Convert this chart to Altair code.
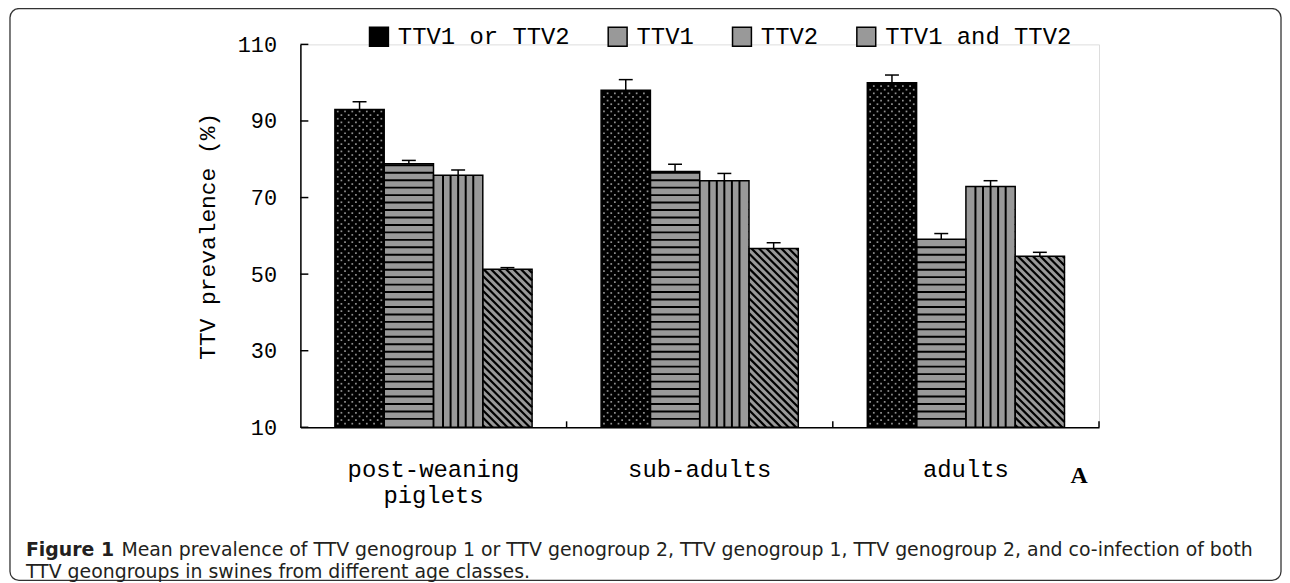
import altair as alt
import pandas as pd

# ---------------- data ----------------
categories = ["post-weaning piglets", "sub-adults", "adults"]
series = ["TTV1 or TTV2", "TTV1", "TTV2", "TTV1 and TTV2"]
val_any = [93.0, 98.0, 100.0]
err_any = [2.0, 2.8, 2.0]
val_t1 = [78.8, 76.8, 59.1]
err_t1 = [0.9, 1.9, 1.5]
val_t2 = [75.8, 74.4, 72.9]
err_t2 = [1.4, 1.9, 1.5]
val_both = [51.3, 56.7, 54.7]
err_both = [0.4, 1.5, 1.0]
y_ticks = [10, 30, 50, 70, 90, 110]

rows = []
for s, vals, errs in zip(series, [val_any, val_t1, val_t2, val_both],
                         [err_any, err_t1, err_t2, err_both]):
    for c, v, e in zip(categories, vals, errs):
        rows.append({"category": c, "series": s, "value": v, "upper": v + e, "base": 10})
df = pd.DataFrame(rows)

# ---------------- layout ----------------
W, H = 803, 385
PAD_O = 0.7
band = W / 3
sub = band / (4 + 2 * PAD_O)
ppu = H / 100.0  # pixels per y unit

def bp(series_idx, px=0.0):
    return ((PAD_O + series_idx + 0.5) * sub + px) / band

MONO = "Liberation Mono"
fills = ["#000000", "#999999", "#999999", "#999999"]

X = lambda **kw: alt.X("category:N", sort=categories,
                       scale=alt.Scale(domain=categories, paddingInner=0, paddingOuter=0), **kw)
XO = lambda: alt.XOffset("series:N", sort=series,
                         scale=alt.Scale(domain=series, paddingInner=0, paddingOuter=PAD_O))
Ysc = alt.Scale(domain=[10, 110], nice=False, zero=False)

base = alt.Chart(df)

bars = base.mark_bar(strokeWidth=0).encode(
    x=X(title=None, axis=alt.Axis(
        labelExpr="datum.label == 'post-weaning piglets' ? ['post-weaning', 'piglets'] : datum.label",
        labelFont=MONO, labelFontSize=24, labelColor="black", labelPadding=30,
        labelLineHeight=27, ticks=False, domainColor="black", domainWidth=1.5, labelAngle=0)),
    xOffset=XO(),
    y=alt.Y("value:Q", scale=Ysc, axis=alt.Axis(
        values=y_ticks, title="TTV prevalence (%)", titleFont=MONO, titleFontSize=23,
        titleFontWeight="normal", titleColor="black", titleX=-93, titleY=H / 2,
        titleAlign="center", titleBaseline="middle", titleAngle=270,
        labelFont=MONO, labelFontSize=22, labelColor="black", labelPadding=24,
        ticks=False, grid=False, domainColor="black", domainWidth=1.5)),
    y2="base:Q",
    color=alt.Color("series:N", sort=series,
                    scale=alt.Scale(domain=series, range=fills),
                    legend=alt.Legend(title=None, orient="none", legendX=67, legendY=-20,
                                      direction="horizontal", columns=4, padding=0,
                                      symbolType="square", symbolSize=361,
                                      symbolStrokeColor="black", symbolStrokeWidth=1.5,
                                      symbolOpacity=1,
                                      labelFont=MONO, labelFontSize=24, labelColor="black",
                                      labelOffset=7, columnPadding=35, labelLimit=400)),
)

# dots on the black bars (staggered grid)
dot_layers = []
rowstep = 7.3 / ppu
for start, offs in [(10 + rowstep / 2, [k * 7.3 for k in range(-3, 4)]),
                    (10 + rowstep, [(k + 0.5) * 7.3 for k in range(-3, 3)])]:
    for o in offs:
        dot_layers.append(
            base.transform_filter(alt.datum.series == series[0])
            .transform_calculate(r=f"sequence({start}, datum.value - 0.4, {rowstep})")
            .transform_flatten(["r"])
            .mark_square(size=3, color="#8f8f8f", opacity=1)
            .encode(x=X(bandPosition=bp(0, o)), y=alt.Y("r:Q", scale=Ysc))
        )

# horizontal stripes (TTV1)
hstep = 7.5 / ppu
hstripes = (base.transform_filter(alt.datum.series == series[1])
            .transform_calculate(s=f"sequence(10 + {hstep}, datum.value - 0.4, {hstep})")
            .transform_flatten(["s"])
            .transform_calculate(s2="datum.s + 0.5")
            .mark_bar(color="black", strokeWidth=0)
            .encode(x=X(), xOffset=XO(), y=alt.Y("s:Q", scale=Ysc), y2="s2:Q"))

# vertical stripes (TTV2)
vlayers = []
for k in range(-2, 3):
    vlayers.append(
        base.transform_filter(alt.datum.series == series[2])
        .mark_rule(color="black", strokeWidth=2)
        .encode(x=X(bandPosition=bp(2, k * 7.6)), y=alt.Y("value:Q", scale=Ysc), y2="base:Q")
    )

# diagonal stripes (TTV1 and TTV2)
dhalf = sub / 2 / ppu
dstep = 7.5 / ppu
diag = (base.transform_filter(alt.datum.series == series[3])
        .transform_calculate(d=f"sequence(10 - {dhalf} + 0.6, datum.value + {dhalf}, {dstep})")
        .transform_flatten(["d"])
        .mark_point(shape="M-1,-1L1,1", size=sub * sub, filled=False, color="black",
                    strokeWidth=2.2, opacity=1, clip=True)
        .encode(x=X(bandPosition=bp(3)), y=alt.Y("d:Q", scale=Ysc)))

cover = (base.transform_filter(alt.datum.series == series[3])
         .transform_calculate(c2=f"datum.value + {2 * dhalf + 1}")
         .mark_bar(color="white", strokeWidth=0)
         .encode(x=X(), xOffset=XO(), y=alt.Y("value:Q", scale=Ysc), y2="c2:Q"))

outline = base.mark_bar(fillOpacity=0, stroke="black", strokeWidth=1.5).encode(
    x=X(), xOffset=XO(), y=alt.Y("value:Q", scale=Ysc), y2="base:Q")

err_rule = base.mark_rule(color="black", strokeWidth=1.5).encode(
    x=X(), xOffset=XO(), y=alt.Y("value:Q", scale=Ysc), y2="upper:Q")
err_cap = base.mark_tick(color="black", size=14, thickness=1.5, opacity=1).encode(
    x=X(), xOffset=XO(), y=alt.Y("upper:Q", scale=Ysc))

# inward ticks
ytick_rules = alt.Chart(pd.DataFrame({"t": y_ticks})).mark_rule(color="black", strokeWidth=1.5).encode(
    y=alt.Y("t:Q", scale=Ysc), x=alt.value(0), x2=alt.value(8))
xtick_rules = alt.Chart(pd.DataFrame({"category": categories})).mark_rule(
    color="black", strokeWidth=1.5).encode(
    x=X(bandPosition=1), y=alt.value(H), y2=alt.value(H - 6))

one = pd.DataFrame({"a": [0]})
border = alt.Chart(one).mark_rect(fillOpacity=0, stroke="#333333", strokeWidth=1.3,
                                  cornerRadius=9).encode(
    x=alt.value(-292), x2=alt.value(986), y=alt.value(-36), y2=alt.value(539))

CAP = 19
CAPFONT = "DejaVu Sans"
cap_bold = alt.Chart(one).mark_text(text="Figure 1", font=CAPFONT, fontSize=CAP,
                                    fontWeight="bold", align="left", color="#231f20").encode(
    x=alt.value(-276), y=alt.value(508))
cap1 = alt.Chart(one).mark_text(
    text="Mean prevalence of TTV genogroup 1 or TTV genogroup 2, TTV genogroup 1, TTV genogroup 2, and co-infection of both",
    font=CAPFONT, fontSize=CAP, align="left", color="#231f20").encode(
    x=alt.value(-180), y=alt.value(508))
cap2 = alt.Chart(one).mark_text(
    text="TTV geongroups in swines from different age classes.",
    font=CAPFONT, fontSize=CAP, align="left", color="#231f20").encode(
    x=alt.value(-276), y=alt.value(531))
letter_a = alt.Chart(one).mark_text(text="A", font="Liberation Serif", fontSize=24,
                                    fontWeight="bold", align="center", color="black").encode(
    x=alt.value(783), y=alt.value(434))

chart = alt.layer(
    border, cap_bold, cap1, cap2,
    bars, *dot_layers, hstripes, *vlayers, diag, cover, outline,
    err_rule, err_cap, ytick_rules, xtick_rules, letter_a,
).properties(
    width=W, height=H,
    autosize=alt.AutoSizeParams(type="none"),
    padding={"left": 294, "top": 35, "right": 184, "bottom": 162},
).configure_view(stroke=None).configure(background="white")

chart.save("out.html", embed_options={"renderer": "svg", "actions": False})
